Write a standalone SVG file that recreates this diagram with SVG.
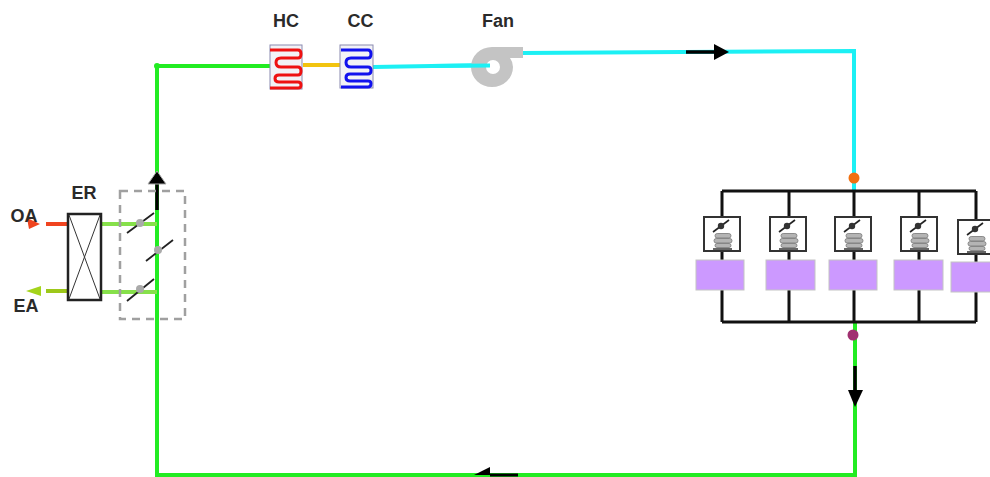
<svg xmlns="http://www.w3.org/2000/svg" width="990" height="477" viewBox="0 0 990 477">
<style>
text{font-family:"Liberation Sans",Arial,sans-serif;font-size:18px;font-weight:bold;fill:#2a2a2a;text-anchor:middle}
.g{fill:none;stroke:#22ec22;stroke-width:4}
.lg{fill:none;stroke:#86e04a;stroke-width:4}
.c{fill:none;stroke:#1cf0f4;stroke-width:4}
.k{fill:none;stroke:#111;stroke-width:3}
.a{fill:none;stroke:#000;stroke-width:3.5}
.d{fill:none;stroke:#222;stroke-width:1.8}
.dot{fill:#aaa}
.p{fill:#cc99ff;stroke:#c4c4c4;stroke-width:1}
.t{fill:#fff;stroke:#333;stroke-width:2}
.coil{fill:none;stroke-width:3;stroke-linejoin:round}
.pill{fill:#b4b4b4;stroke:#777;stroke-width:.8}
</style>
<defs>
<g id="term">
<rect class="t" x="0" y="0" width="36" height="34"/>
<path d="M9 15 L25 3" stroke="#222" stroke-width="1.6" fill="none"/>
<circle cx="17" cy="9" r="3.2" fill="#333"/>
<rect class="pill" x="11" y="16.500" width="16" height="4.500" rx="2.200"/>
<rect class="pill" x="10" y="21.500" width="18" height="4.500" rx="2.200"/>
<rect class="pill" x="11" y="26.500" width="16" height="4" rx="2"/>
<path d="M9 32 H28" stroke="#666" stroke-width="2" fill="none"/>
</g>
</defs>
<g id="connectors">
<path class="g" d="M157 66 H270"/>
<path class="g" d="M157 66 V475 H855 V322"/>
<path d="M303 65 H342" fill="none" stroke="#f2c40f" stroke-width="4"/>
<path class="c" d="M373 67 L491 65"/>
<path class="c" d="M522 53 L854 51 V191"/>
<path class="lg" d="M101 224 H157 M101 292 H157"/>
<path d="M46 224 H67" fill="none" stroke="#f0441f" stroke-width="4"/>
<path d="M46 291 H67" fill="none" stroke="#9dc81a" stroke-width="4"/>
<path class="k" d="M722 191 H976 M722 322 H976 M722 191 V217 M789 191 V217 M854 191 V217 M919 191 V217 M976 191 V220 M722 251 V322 M789 251 V322 M854 251 V322 M919 251 V322 M976 255 V322"/>
<path class="a" d="M157 180 V210"/>
<polygon points="148,184 157,171 166,184" fill="#000" stroke="#aaa" stroke-width="1"/>
<path class="a" d="M686 52 H716"/>
<polygon points="714,44 729,52 714,60" fill="#000"/>
<path class="a" d="M855 366 V392"/>
<polygon points="848,390 855,407 863,390" fill="#000"/>
<path d="M490 475 H518" fill="none" stroke="#000" stroke-width="3"/>
<polygon points="474,475 490,467 490,475" fill="#000"/>
<circle cx="157" cy="66" r="3" fill="#22ec22"/>
<polygon points="27,218 40,224 29,229" fill="#f0441f"/>
<polygon points="26,291 41,286 41,296" fill="#a4d41c"/>
</g>
<g id="HC">
<text x="286" y="27">HC</text>
<rect x="270" y="45" width="32" height="44" fill="#f2f2f6" stroke="#8a8ab0" stroke-width="1"/>
<path class="coil" stroke="#ee1111" d="M270 50 H298 Q301 50 301 54 Q301 58 298 58 H281 Q276 58 276 62.500 Q276 67 281 67 H298 Q301 67 301 71 Q301 75 298 75 H279 Q275 75 275 78.500 Q275 82 279 82 H298 Q301 82 301 85 Q301 88 298 88 H270"/>
</g>
<g id="CC">
<text x="360.500" y="27">CC</text>
<rect x="340" y="45" width="33" height="43" fill="#f2f2f6" stroke="#8a8ab0" stroke-width="1"/>
<path class="coil" stroke="#1111ee" d="M341 50 H368 Q371 50 371 54 Q371 58 368 58 H351 Q346 58 346 62.500 Q346 67 351 67 H368 Q371 67 371 70.500 Q371 74 368 74 H350 Q346 74 346 77.500 Q346 81 350 81 H368 Q371 81 371 83.500 Q371 87 368 87 H341"/>
</g>
<g id="Fan">
<text x="498" y="27">Fan</text>
<path d="M492 47 H523 V58 H510 Q513 62 513 67 A21 20 0 1 1 492 47 Z" fill="#c4c4c4"/>
<circle cx="493" cy="67" r="7" fill="#fff"/>
<path class="c" d="M430 66 L490 65.500"/>
</g>
<g id="ER">
<text x="84" y="199">ER</text>
<rect x="68" y="214" width="33" height="86" fill="#fff" stroke="#222" stroke-width="2.500"/>
<path d="M69 215 L100 299 M100 215 L69 299" stroke="#333" stroke-width="1" fill="none"/>
</g>
<g id="OA"><text x="24" y="222">OA</text></g>
<g id="EA"><text x="26" y="312">EA</text></g>
<g id="Mixer">
<rect x="120" y="191" width="65" height="128" fill="none" stroke="#a0a0a0" stroke-width="2.500" stroke-dasharray="8 6"/>
<path class="d" d="M127 233 L154 213 M146 261 L173 240 M127 301 L154 279"/>
<circle class="dot" cx="140" cy="223" r="4"/>
<circle class="dot" cx="158" cy="250" r="4"/>
<circle class="dot" cx="140" cy="289" r="4"/>
</g>
<g id="zone1"><use href="#term" x="704" y="217"/><rect class="p" x="696" y="260" width="48" height="30"/></g>
<g id="zone2"><use href="#term" x="770" y="217"/><rect class="p" x="766" y="260" width="49" height="30"/></g>
<g id="zone3"><use href="#term" x="835" y="217"/><rect class="p" x="829" y="260" width="48" height="30"/></g>
<g id="zone4"><use href="#term" x="901" y="217"/><rect class="p" x="894" y="260" width="49" height="30"/></g>
<g id="zone5"><use href="#term" x="958" y="220"/><rect class="p" x="951" y="262" width="49" height="30"/></g>
<g id="sensors">
<circle cx="854" cy="178" r="5.500" fill="#f07010"/>
<circle cx="853" cy="335" r="5.500" fill="#a03070"/>
</g>
</svg>
